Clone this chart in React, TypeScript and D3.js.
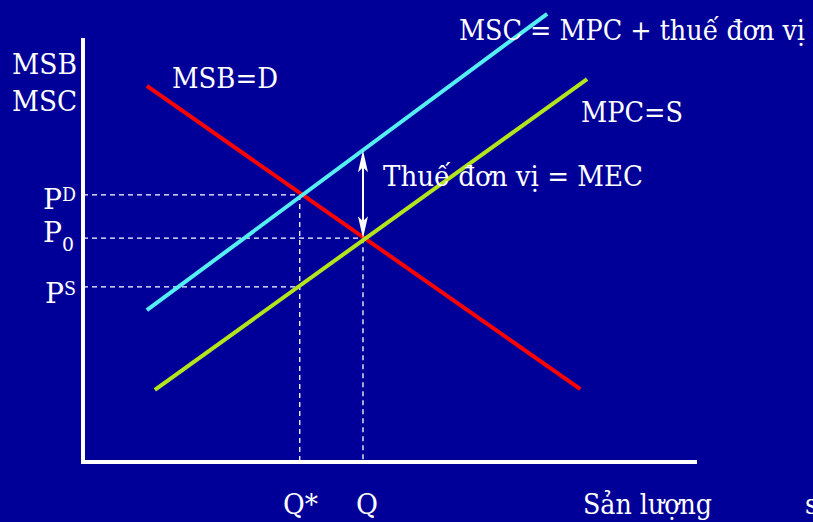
import React from "react";
import * as d3 from "d3";

// Curves: endpoints in (quantity, price) units
const demandMSB = [ { q: 10.4, p: 88.7 }, { q: 81.0, p: 17.2 } ];
const costMSC = [ { q: 10.4, p: 35.8 }, { q: 75.6, p: 105.7 } ];
const supplyMPC = [ { q: 11.7, p: 17.0 }, { q: 82.1, p: 90.3 } ];

// Key quantities and prices
const qStar = 35.3;
const qEq = 45.6;
const pD = 63.0;
const p0 = 52.8;
const pS = 41.3;

const curveLabels = ["MSB=D", "MSC = MPC + thuế đơn vị", "MPC=S"];
const axisLabelsY = ["MSB", "MSC"];
const taxLabel = "Thuế đơn vị = MEC";
const qLabels = ["Q*", "Q"];
const xAxisLabel = "Sản lượng";

const W = 813;
const H = 522;

export default function App() {
  const x = d3.scaleLinear().domain([0, 100]).range([83, 697]);
  const y = d3.scaleLinear().domain([0, 100]).range([462, 38]);
  const line = d3
    .line<{ q: number; p: number }>()
    .x((d) => x(d.q))
    .y((d) => y(d.p));

  const font = "'DejaVu Serif Condensed', 'DejaVu Serif', serif";
  const dash = "5,4";
  const arrowTop = y(costMSC[0].p + ((costMSC[1].p - costMSC[0].p) * (qEq - costMSC[0].q)) / (costMSC[1].q - costMSC[0].q));
  const fit = { lengthAdjust: "spacingAndGlyphs" } as any;

  return (
    <svg
      width={W}
      height={H}
      style={{ position: "absolute", left: 0, top: 0, background: "#000099" }}
    >
      <rect x={0} y={0} width={W} height={H} fill="#000099" />

      {/* dashed guides */}
      <g stroke="#fff" strokeWidth={1.3} strokeDasharray={dash} fill="none">
        <line x1={x(0)} y1={y(pD)} x2={x(qStar)} y2={y(pD)} />
        <line x1={x(0)} y1={y(p0)} x2={x(qEq)} y2={y(p0)} />
        <line x1={x(0)} y1={y(pS)} x2={x(qStar)} y2={y(pS)} />
        <line x1={x(qStar)} y1={y(pD)} x2={x(qStar)} y2={y(0)} />
        <line x1={x(qEq)} y1={y(p0)} x2={x(qEq)} y2={y(0)} />
      </g>

      {/* curves */}
      <path d={line(demandMSB) || ""} stroke="#ff0000" strokeWidth={4} fill="none" />
      <path d={line(costMSC) || ""} stroke="#55eef2" strokeWidth={4} fill="none" />
      <path d={line(supplyMPC) || ""} stroke="#b4e41c" strokeWidth={4} fill="none" />

      {/* axes */}
      <line x1={x(0)} y1={38} x2={x(0)} y2={y(0) + 2} stroke="#fff" strokeWidth={4} />
      <line x1={x(0) - 2} y1={y(0)} x2={697} y2={y(0)} stroke="#fff" strokeWidth={4} />

      {/* tax arrow */}
      <g>
        <line x1={x(qEq)} y1={arrowTop + 16} x2={x(qEq)} y2={y(p0) - 16} stroke="#fff" strokeWidth={2} />
        <path
          d={`M${x(qEq)},${arrowTop} L${x(qEq) - 5},${arrowTop + 22} L${x(qEq)},${arrowTop + 17} L${x(qEq) + 5},${arrowTop + 22} Z`}
          fill="#fff"
        />
        <path
          d={`M${x(qEq)},${y(p0)} L${x(qEq) - 5},${y(p0) - 22} L${x(qEq)},${y(p0) - 17} L${x(qEq) + 5},${y(p0) - 22} Z`}
          fill="#fff"
        />
      </g>

      <g fill="#fff" style={{ fontFamily: font }} fontSize={28}>
        <text x={12} y={74} textLength={65} {...fit}>{axisLabelsY[0]}</text>
        <text x={12} y={111} textLength={65} {...fit}>{axisLabelsY[1]}</text>
        <text x={172} y={88} textLength={106} {...fit}>{curveLabels[0]}</text>
        <text x={459} y={40} textLength={346} {...fit}>{curveLabels[1]}</text>
        <text x={581} y={122} textLength={102} {...fit}>{curveLabels[2]}</text>
        <text x={383} y={186} textLength={260} {...fit}>{taxLabel}</text>

        <text x={43} y={209}>
          <tspan textLength={19} {...fit}>P</tspan>
          <tspan fontSize={19} dy={-8} textLength={14} {...fit}>D</tspan>
        </text>
        <text x={43} y={242}>
          <tspan textLength={19} {...fit}>P</tspan>
          <tspan fontSize={19} dy={9} textLength={12} {...fit}>0</tspan>
        </text>
        <text x={45} y={303}>
          <tspan textLength={19} {...fit}>P</tspan>
          <tspan fontSize={19} dy={-8} textLength={12} {...fit}>S</tspan>
        </text>

        <text x={283} y={514} textLength={35} {...fit}>{qLabels[0]}</text>
        <text x={356} y={514} textLength={22} {...fit}>{qLabels[1]}</text>
        <text x={583} y={514} textLength={129} {...fit}>{xAxisLabel}</text>
        <text x={805} y={514}>s</text>
      </g>
    </svg>
  );
}
